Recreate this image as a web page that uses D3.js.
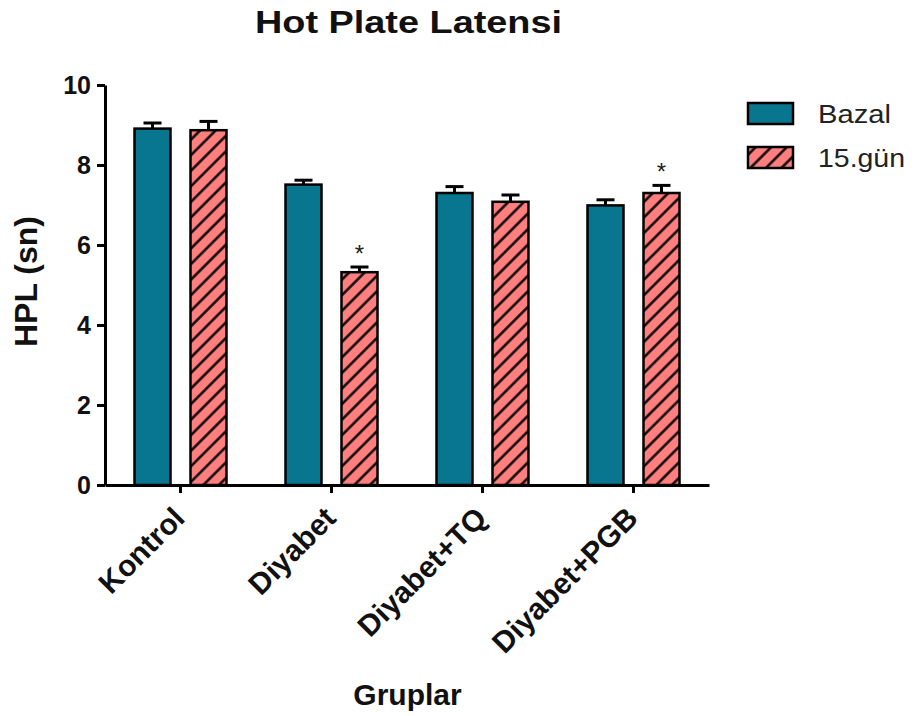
<!DOCTYPE html>
<html>
<head>
<meta charset="utf-8">
<script src="https://cdn.jsdelivr.net/npm/d3@7"></script>
<style>
  body { margin: 0; background: #fff; }
  text { font-family: "Liberation Sans", Arial, sans-serif; }
</style>
</head>
<body>
<div id="chart"></div>
<script>
// data
const groups = ['Kontrol', 'Diyabet', 'Diyabet+TQ', 'Diyabet+PGB'];
const series = ['Bazal', '15.gün'];
const bazal = [8.91, 7.51, 7.30, 6.99];
const bazalErr = [0.14, 0.11, 0.16, 0.14];
const gun15 = [8.87, 5.32, 7.08, 7.30];
const gun15Err = [0.22, 0.13, 0.17, 0.19];
const gun15Sig = ['', '*', '', '*'];
const yTicks = [0, 2, 4, 6, 8, 10];

const W = 919, H = 716;
const plot = {left: 105, right: 709, top: 85, bottom: 485};

const teal = '#097690';
const pink = '#ff7f7f';

const svg = d3.select('#chart')
    .append('svg')
    .attr('width', W)
    .attr('height', H);

// hatch pattern for the 15.gün bars
const defs = svg.append('defs');
const pat = defs.append('pattern')
    .attr('id', 'hatch')
    .attr('patternUnits', 'userSpaceOnUse')
    .attr('width', 11)
    .attr('height', 11)
    .attr('patternTransform', 'rotate(45)');
pat.append('rect').attr('width', 11).attr('height', 11).attr('fill', pink);
pat.append('line')
    .attr('x1', 5.5).attr('y1', 0)
    .attr('x2', 5.5).attr('y2', 11)
    .attr('stroke', '#000')
    .attr('stroke-width', 2.4);

const x0 = d3.scaleBand()
    .domain(groups)
    .range([plot.left, plot.right]);

const x1 = d3.scaleBand()
    .domain(series)
    .range([29.5, 121.5])
    .paddingInner(0.357);

const y = d3.scaleLinear()
    .domain([0, 10])
    .range([plot.bottom, plot.top]);

const rows = groups.map((g, i) => ({
    group: g,
    vals: [
        {key: 'Bazal', v: bazal[i], e: bazalErr[i], sig: ''},
        {key: '15.gün', v: gun15[i], e: gun15Err[i], sig: gun15Sig[i]}
    ]
}));

const fillOf = k => k === 'Bazal' ? teal : 'url(#hatch)';

const grp = svg.append('g')
    .selectAll('g')
    .data(rows)
    .join('g')
    .attr('transform', d => `translate(${x0(d.group)},0)`);

const bars = grp.selectAll('g')
    .data(d => d.vals)
    .join('g');

// error bars (upper only, drawn under the bar)
bars.append('line')
    .attr('x1', d => x1(d.key) + x1.bandwidth() / 2)
    .attr('x2', d => x1(d.key) + x1.bandwidth() / 2)
    .attr('y1', d => y(d.v))
    .attr('y2', d => y(d.v + d.e))
    .attr('stroke', '#000')
    .attr('stroke-width', 3);

bars.append('line')
    .attr('x1', d => x1(d.key) + x1.bandwidth() / 2 - 9)
    .attr('x2', d => x1(d.key) + x1.bandwidth() / 2 + 9)
    .attr('y1', d => y(d.v + d.e))
    .attr('y2', d => y(d.v + d.e))
    .attr('stroke', '#000')
    .attr('stroke-width', 3);

bars.append('rect')
    .attr('x', d => x1(d.key))
    .attr('y', d => y(d.v))
    .attr('width', x1.bandwidth())
    .attr('height', d => y(0) - y(d.v))
    .attr('fill', d => fillOf(d.key))
    .attr('stroke', '#000')
    .attr('stroke-width', 2.5);

bars.filter(d => d.sig)
    .append('text')
    .attr('x', d => x1(d.key) + x1.bandwidth() / 2)
    .attr('y', d => y(d.v + d.e) - 5)
    .attr('text-anchor', 'middle')
    .attr('font-size', 24)
    .attr('fill', '#222')
    .text(d => d.sig);

// axes
const yAxis = svg.append('g')
    .attr('transform', `translate(${plot.left},0)`)
    .call(d3.axisLeft(y).tickValues(yTicks).tickSize(8).tickPadding(6).tickSizeOuter(0));
yAxis.select('.domain').attr('stroke-width', 3);
yAxis.selectAll('.tick line').attr('stroke-width', 3);
yAxis.selectAll('.tick text')
    .attr('font-size', 25)
    .attr('font-weight', 'bold')
    .attr('fill', '#111')
    .attr('font-family', '"Liberation Sans", Arial, sans-serif');

const xAxis = svg.append('g')
    .attr('transform', `translate(0,${plot.bottom})`)
    .call(d3.axisBottom(x0).tickSize(8).tickSizeOuter(0).tickFormat(''));
xAxis.select('.domain').attr('stroke-width', 3);
xAxis.selectAll('.tick line').attr('stroke-width', 3);

// rotated group labels, baseline ends just right of each tick
svg.append('g')
    .selectAll('text')
    .data(groups)
    .join('text')
    .attr('transform', d => `translate(${x0(d) + x0.bandwidth() / 2 + 6},${plot.bottom + 35}) rotate(-45)`)
    .attr('text-anchor', 'end')
    .attr('font-size', 30)
    .attr('font-weight', 'bold')
    .attr('fill', '#111')
    .text(d => d);

// titles
svg.append('text')
    .attr('x', 408.5)
    .attr('y', 33)
    .attr('text-anchor', 'middle')
    .attr('font-size', 31)
    .attr('font-weight', 'bold')
    .attr('fill', '#111')
    .attr('textLength', 307)
    .attr('lengthAdjust', 'spacingAndGlyphs')
    .text('Hot Plate Latensi');

svg.append('text')
    .attr('transform', 'translate(37,281.5) rotate(-90)')
    .attr('text-anchor', 'middle')
    .attr('font-size', 32)
    .attr('font-weight', 'bold')
    .attr('fill', '#111')
    .text('HPL (sn)');

svg.append('text')
    .attr('x', 407.5)
    .attr('y', 705)
    .attr('text-anchor', 'middle')
    .attr('font-size', 30)
    .attr('font-weight', 'bold')
    .attr('fill', '#111')
    .text('Gruplar');

// legend
const legend = svg.append('g')
    .selectAll('g')
    .data(series)
    .join('g')
    .attr('transform', (d, i) => `translate(748,${103 + i * 44})`);

legend.append('rect')
    .attr('width', 45)
    .attr('height', 21)
    .attr('fill', d => fillOf(d))
    .attr('stroke', '#000')
    .attr('stroke-width', 2.5);

legend.append('text')
    .attr('x', 70)
    .attr('y', 20)
    .attr('font-size', 25)
    .attr('fill', '#222')
    .attr('textLength', (d, i) => i === 0 ? 73 : 87)
    .attr('lengthAdjust', 'spacingAndGlyphs')
    .text(d => d);
</script>
</body>
</html>
